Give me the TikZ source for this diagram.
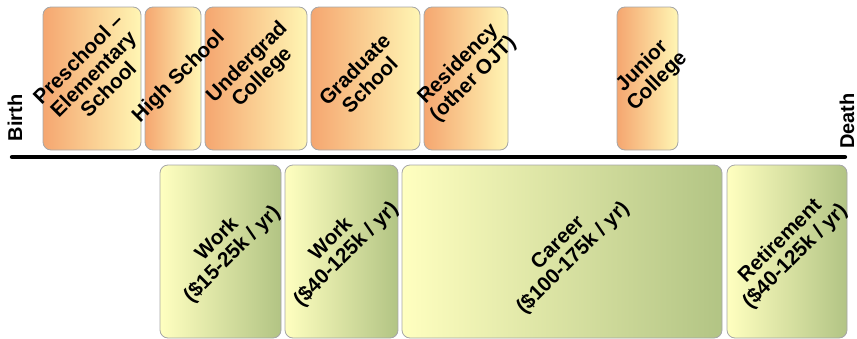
\documentclass[tikz,border=0pt]{standalone}
\usepackage{fontspec}
\setmainfont{Liberation Sans}
\usetikzlibrary{positioning}

\definecolor{eduleft}{RGB}{245,166,112}
\definecolor{eduright}{RGB}{255,246,180}
\definecolor{jobleft}{RGB}{255,255,192}
\definecolor{jobright}{RGB}{178,196,132}

\begin{document}
\begin{tikzpicture}[x=0.75pt,y=-0.75pt,
    box/.style={draw=gray!70, line width=0.6pt, rounded corners=6pt, inner sep=0pt},
    edu/.style={box, left color=eduleft, right color=eduright, minimum height=107.25pt},
    job/.style={box, left color=jobleft, right color=jobright, minimum height=129.75pt},
    lbl/.style={rotate=45, align=center, inner sep=0pt,
                font=\bfseries\fontsize{15.5}{16}\selectfont},
    ends/.style={rotate=90, font=\bfseries\fontsize{15}{16}\selectfont}]
  \useasboundingbox (0,0) rectangle (857,339);

  % schooling, above the line
  \node[edu, minimum width=73.5pt]  (pre)   at (92,78.5)    {};
  \node[edu, minimum width=42pt]    (high)  at (173,78.5)   {};
  \node[edu, minimum width=76.5pt]  (under) at (256,78.5)   {};
  \node[edu, minimum width=81.75pt] (grad)  at (365.5,78.5) {};
  \node[edu, minimum width=63pt]    (res)   at (466,78.5)   {};
  \node[edu, minimum width=45.75pt] (jc)    at (647.5,78.5) {};

  \node[lbl] (preL)   at (93,74)  {Preschool --\\Elementary\\School};
  \node[lbl] (highL)  at (179,77) {High School};
  \node[lbl] (underL) at (255,70) {Undergrad\\College};
  \node[lbl] (gradL)  at (362,77) {Graduate\\School};
  \node[lbl] (resL)   at (466,72) {Residency\\(other OJT)};
  \node[lbl] (jcL)    at (650,74) {Junior\\College};

  % earnings, below the line
  \node[job, minimum width=90.75pt] (work1)  at (220.5,251.5) {};
  \node[job, minimum width=84.75pt] (work2)  at (341.5,251.5) {};
  \node[job, minimum width=240pt]   (career) at (562,251.5)   {};
  \node[job, minimum width=90pt]    (retire) at (787,251.5)   {};

  \node[lbl] (work1L)  at (225,247) {Work\\(\$15-25k / yr)};
  \node[lbl] (work2L)  at (339,247) {Work\\(\$40-125k / yr)};
  \node[lbl] (careerL) at (566,251) {Career\\(\$100-175k / yr)};
  \node[lbl] (retireL) at (788,249) {Retirement\\(\$40-125k / yr)};

  % the life line
  \coordinate (start) at (12,157);
  \coordinate (stop)  at (845,157);
  \draw[line width=3.2pt, line cap=round] (start) -- (stop);

  \node[ends] (birth) at (15,118)  {Birth};
  \node[ends] (death) at (847,121) {Death};
\end{tikzpicture}
\end{document}
